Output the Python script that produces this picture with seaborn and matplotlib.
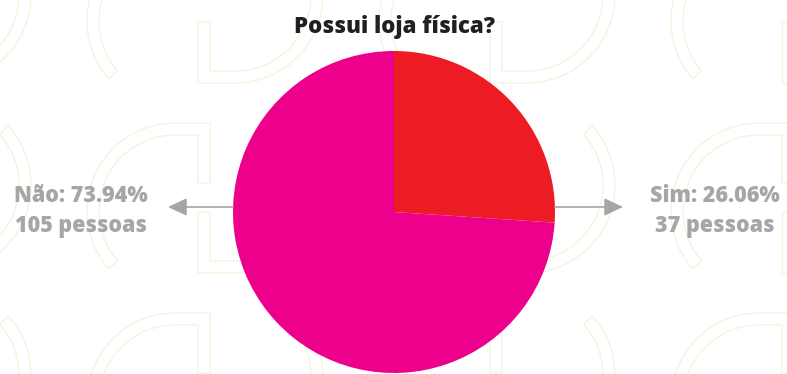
import numpy as np
import matplotlib
matplotlib.use("Agg")
import matplotlib.pyplot as plt
from matplotlib.path import Path
from matplotlib.patches import PathPatch, FancyArrowPatch
import seaborn as sns

# Survey answers
categories = ["Sim", "Não"]
counts = [37, 105]
colors = ["#ED1C24", "#EC008C"]
title = "Possui loja física?"
unit = "pessoas"

sns.set_theme(style="white")
plt.rcParams["font.family"] = ["Open Sans", "DejaVu Sans"]

W, H, DPI = 787, 374, 100
fig = plt.figure(figsize=(W / DPI, H / DPI), dpi=DPI)
fig.patch.set_facecolor("white")

# Background layer in pixel coordinates (origin top-left)
bg = fig.add_axes([0, 0, 1, 1], zorder=0)
bg.set_xlim(0, W)
bg.set_ylim(H, 0)
bg.axis("off")

# Faint repeating logo pattern
WM_COLOR = "#EFF5DA"


def arc_pts(cx, cy, r, a0, a1, n=60):
    t = np.radians(np.linspace(a0, a1, n))
    return np.column_stack([cx + r * np.cos(t), cy - r * np.sin(t)])


def outline(pts):
    pts = np.vstack([pts, pts[:1]])
    codes = [Path.MOVETO] + [Path.LINETO] * (len(pts) - 2) + [Path.CLOSEPOLY]
    bg.add_patch(PathPatch(Path(pts, codes), facecolor="none",
                           edgecolor=WM_COLOR, lw=0.9, zorder=0))


RO, RI = 88, 76
for X in [198 + k * 292 for k in range(-1, 3)]:
    for Y in [123 + j * 190 for j in range(-1, 2)]:
        # "C" arc joined to the upper bar
        cx, cy = X - 23, Y + 88
        p = [arc_pts(cx, cy, RO, 221, 90),
             np.array([[X + 12, Y], [X + 12, Y + 60], [X, Y + 60],
                       [X, Y + 12], [X - 23, Y + 12]]),
             arc_pts(cx, cy, RI, 90, 221)]
        outline(np.vstack(p))
        # lower bar with its bowl
        cx, cy = X + 37, Y + 62
        p = [np.array([[X, Y + 89], [X + 12, Y + 89], [X + 12, Y + 138]]),
             arc_pts(cx, cy, RI, -90, 42),
             arc_pts(cx, cy, RO, 42, -90),
             np.array([[X, Y + 150]])]
        outline(np.vstack(p))

# Pie
pcx, pcy, pr = 394, 212, 161
pie_ax = fig.add_axes([(pcx - pr) / W, (H - pcy - pr) / H, 2 * pr / W, 2 * pr / H],
                      zorder=1)
pie_ax.pie(counts, colors=colors, startangle=90, counterclock=False,
           radius=1, wedgeprops=dict(linewidth=0))
pie_ax.set_xlim(-1, 1)
pie_ax.set_ylim(-1, 1)
pie_ax.set_aspect("equal")
pie_ax.axis("off")

# Foreground layer for text and arrows
fg = fig.add_axes([0, 0, 1, 1], zorder=2)
fg.set_xlim(0, W)
fg.set_ylim(H, 0)
fg.axis("off")
fg.patch.set_alpha(0)

fg.text(394, 33, title, ha="center", va="baseline", fontsize=16,
        fontweight=800, color="#231F20")

total = sum(counts)
GRAY = "#A6A6A6"
label_pos = {"Sim": (715, 623), "Não": (81, 168)}
arrow_start = {"Sim": pcx + pr, "Não": pcx - pr}
for cat, n in zip(categories, counts):
    pct = 100 * n / total
    tx, ax_end = label_pos[cat]
    fg.text(tx, 202, f"{cat}: {pct:.2f}%", ha="center", va="baseline",
            fontsize=15.5, fontweight=800, color=GRAY)
    fg.text(tx, 232, f"{n} {unit}", ha="center", va="baseline",
            fontsize=15.5, fontweight=800, color=GRAY)
    fg.add_patch(FancyArrowPatch((arrow_start[cat], 207), (ax_end, 207),
                                 arrowstyle="-|>,head_length=11.5,head_width=5.4",
                                 mutation_scale=1, color=GRAY, lw=1.2,
                                 shrinkA=0, shrinkB=0))

fig.savefig("out.png", dpi=DPI, facecolor="white")
